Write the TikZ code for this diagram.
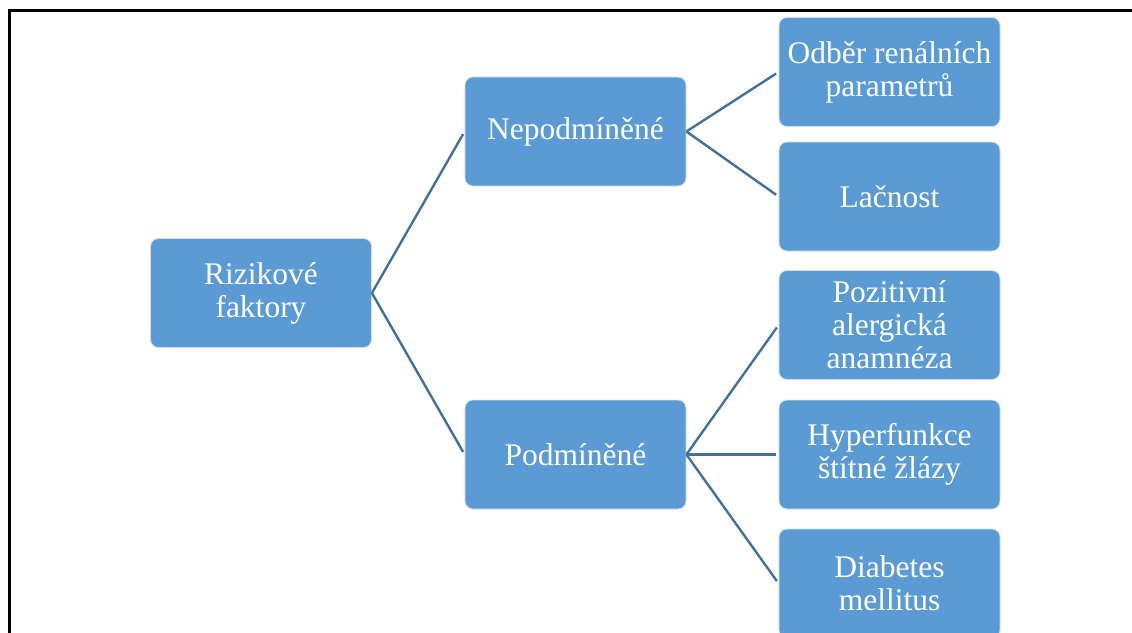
\documentclass[tikz,border=0pt]{standalone}
\usepackage{fontspec}
\setmainfont{Liberation Serif}
\definecolor{boxblue}{HTML}{5B9BD5}
\definecolor{lineblue}{HTML}{41719C}
\begin{document}
\begin{tikzpicture}[x=1pt,y=-1pt,
  box/.style={rectangle, rounded corners=8pt, fill=boxblue, draw=white!70!boxblue, line width=0.8pt,
    minimum width=221pt, minimum height=109pt, text=white, align=center,
    font=\fontsize{31.5}{33}\selectfont, inner sep=0pt},
  conn/.style={draw=lineblue, line width=2.4pt, shorten >=3pt}]
\useasboundingbox (0,0) rectangle (1132,632);
\clip (0,0) rectangle (1132,632);
\fill[white] (0,0) rectangle (1132,632);
\node[box] (root) at (261,293) {Rizikové\\faktory};
\node[box] (nep) at (575.5,131.5) {Nepodmíněné};
\node[box] (pod) at (575.5,454.5) {Podmíněné};
\node[box] (odb) at (889.5,72) {Odběr renálních\\parametrů};
\node[box] (lac) at (889.5,196.5) {Lačnost};
\node[box] (poz) at (889.5,325) {Pozitivní\\alergická\\anamnéza};
\node[box] (hyp) at (889.5,454.5) {Hyperfunkce\\štítné žlázy};
\node[box] (dia) at (889.5,583.5) {Diabetes\\mellitus};
\draw[conn] (root.east) -- (nep.west);
\draw[conn] (root.east) -- (pod.west);
\draw[conn] (nep.east) -- (odb.west);
\draw[conn] (nep.east) -- (lac.west);
\draw[conn] (pod.east) -- (poz.west);
\draw[conn] (pod.east) -- (hyp.west);
\draw[conn] (pod.east) -- (dia.west);
\draw[line width=3pt] (9,634) -- (9,10) -- (1134,10);
\end{tikzpicture}
\end{document}
